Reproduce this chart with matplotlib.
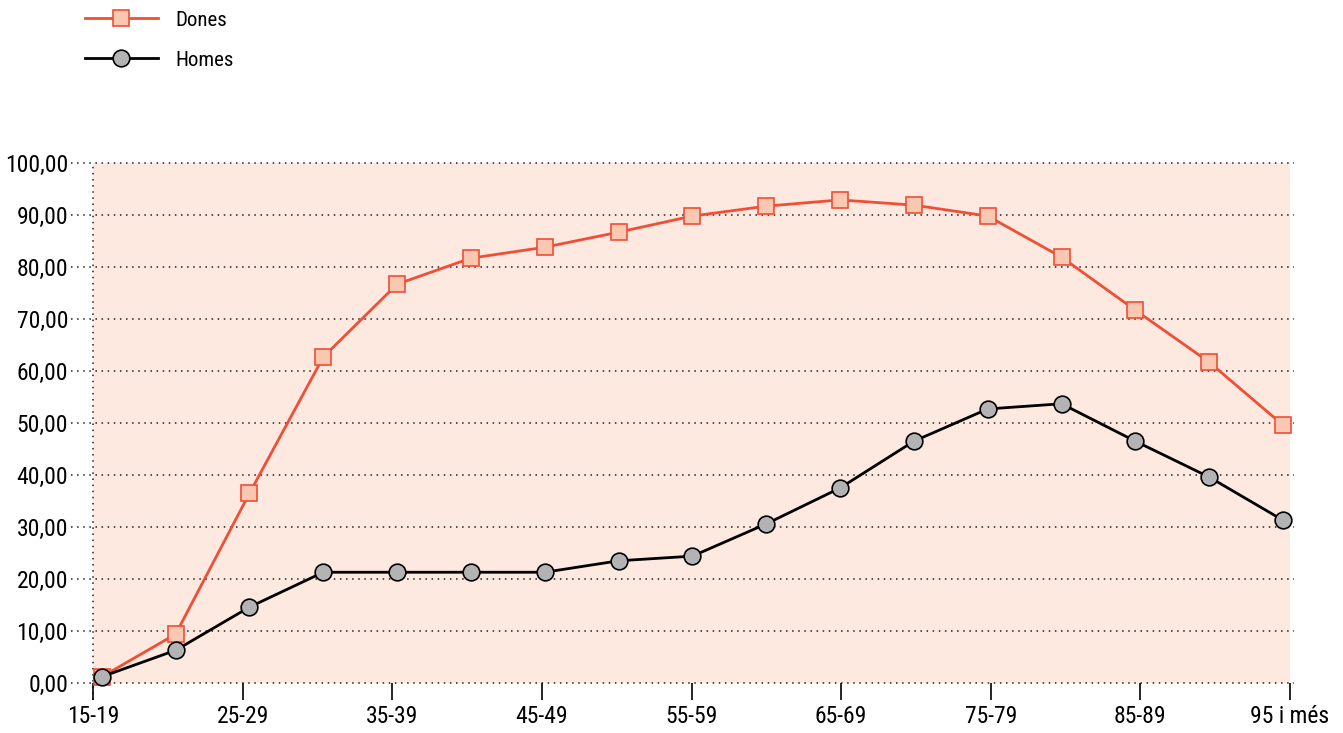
import numpy as np
import matplotlib.pyplot as plt
from matplotlib.ticker import FuncFormatter

plt.rcParams['font.family'] = ['Roboto Condensed', 'DejaVu Sans']

categories = ['15-19', '20-24', '25-29', '30-34', '35-39', '40-44', '45-49',
              '50-54', '55-59', '60-64', '65-69', '70-74', '75-79', '80-84',
              '85-89', '90-94', '95 i més']
dones = [1.2, 9.4, 36.5, 62.7, 76.7, 81.7, 83.8, 86.7, 89.8, 91.7, 92.9,
         91.9, 89.8, 81.9, 71.7, 61.7, 49.6]
homes = [1.2, 6.3, 14.6, 21.3, 21.3, 21.3, 21.3, 23.5, 24.4, 30.6, 37.5,
         46.5, 52.7, 53.7, 46.5, 39.6, 31.3]

RED = '#F04E37'
PINK = '#FAC8B0'
BG = '#FDE9DF'

fig = plt.figure(figsize=(13.43, 7.33), dpi=100)
ax = fig.add_axes((93 / 1343, 1 - 683 / 733, 1197 / 1343, 520 / 733))
ax.set_facecolor(BG)

x = np.arange(len(categories))
xlim = (-0.12, len(categories) - 1 + 0.095)
ax.set_xlim(*xlim)
ax.set_ylim(0, 100)

# dotted grid, extending a little outside the plot area
for v in range(0, 101, 10):
    ax.axhline(v, xmin=-0.018, xmax=1.003, color='#222222', lw=1.1,
               ls=(0, (1, 3)), clip_on=False, zorder=1)
ax.axvline(xlim[0], ymin=-0.033, ymax=1, color='#222222', lw=1.1,
           ls=(0, (1, 3)), clip_on=False, zorder=1)

ax.plot(x, dones, color=RED, lw=2, marker='s', markersize=12,
        markerfacecolor=PINK, markeredgecolor=RED, markeredgewidth=1.2,
        label='Dones', zorder=3, clip_on=False)
ax.plot(x, homes, color='black', lw=2, marker='o', markersize=12,
        markerfacecolor='#B3B3B3', markeredgecolor='black', markeredgewidth=1.2,
        label='Homes', zorder=4, clip_on=False)

for s in ax.spines.values():
    s.set_visible(False)

ax.set_xticks(np.linspace(xlim[0], xlim[1], 9))
ax.set_xticklabels(categories[::2])
ax.tick_params(axis='x', length=12, width=1.2, direction='out', pad=4,
               labelsize=17, color='black')
ax.set_yticks(range(0, 101, 10))
ax.yaxis.set_major_formatter(FuncFormatter(lambda v, p: f'{v:.2f}'.replace('.', ',')))
ax.tick_params(axis='y', length=0, pad=18, labelsize=17)

fig.legend(loc='upper left', bbox_to_anchor=(66 / 1343, 1 + 8 / 733),
           frameon=False, fontsize=15, handlelength=3.5, handletextpad=0.87,
           labelspacing=1.0)

fig.savefig('out.png', dpi=100)
